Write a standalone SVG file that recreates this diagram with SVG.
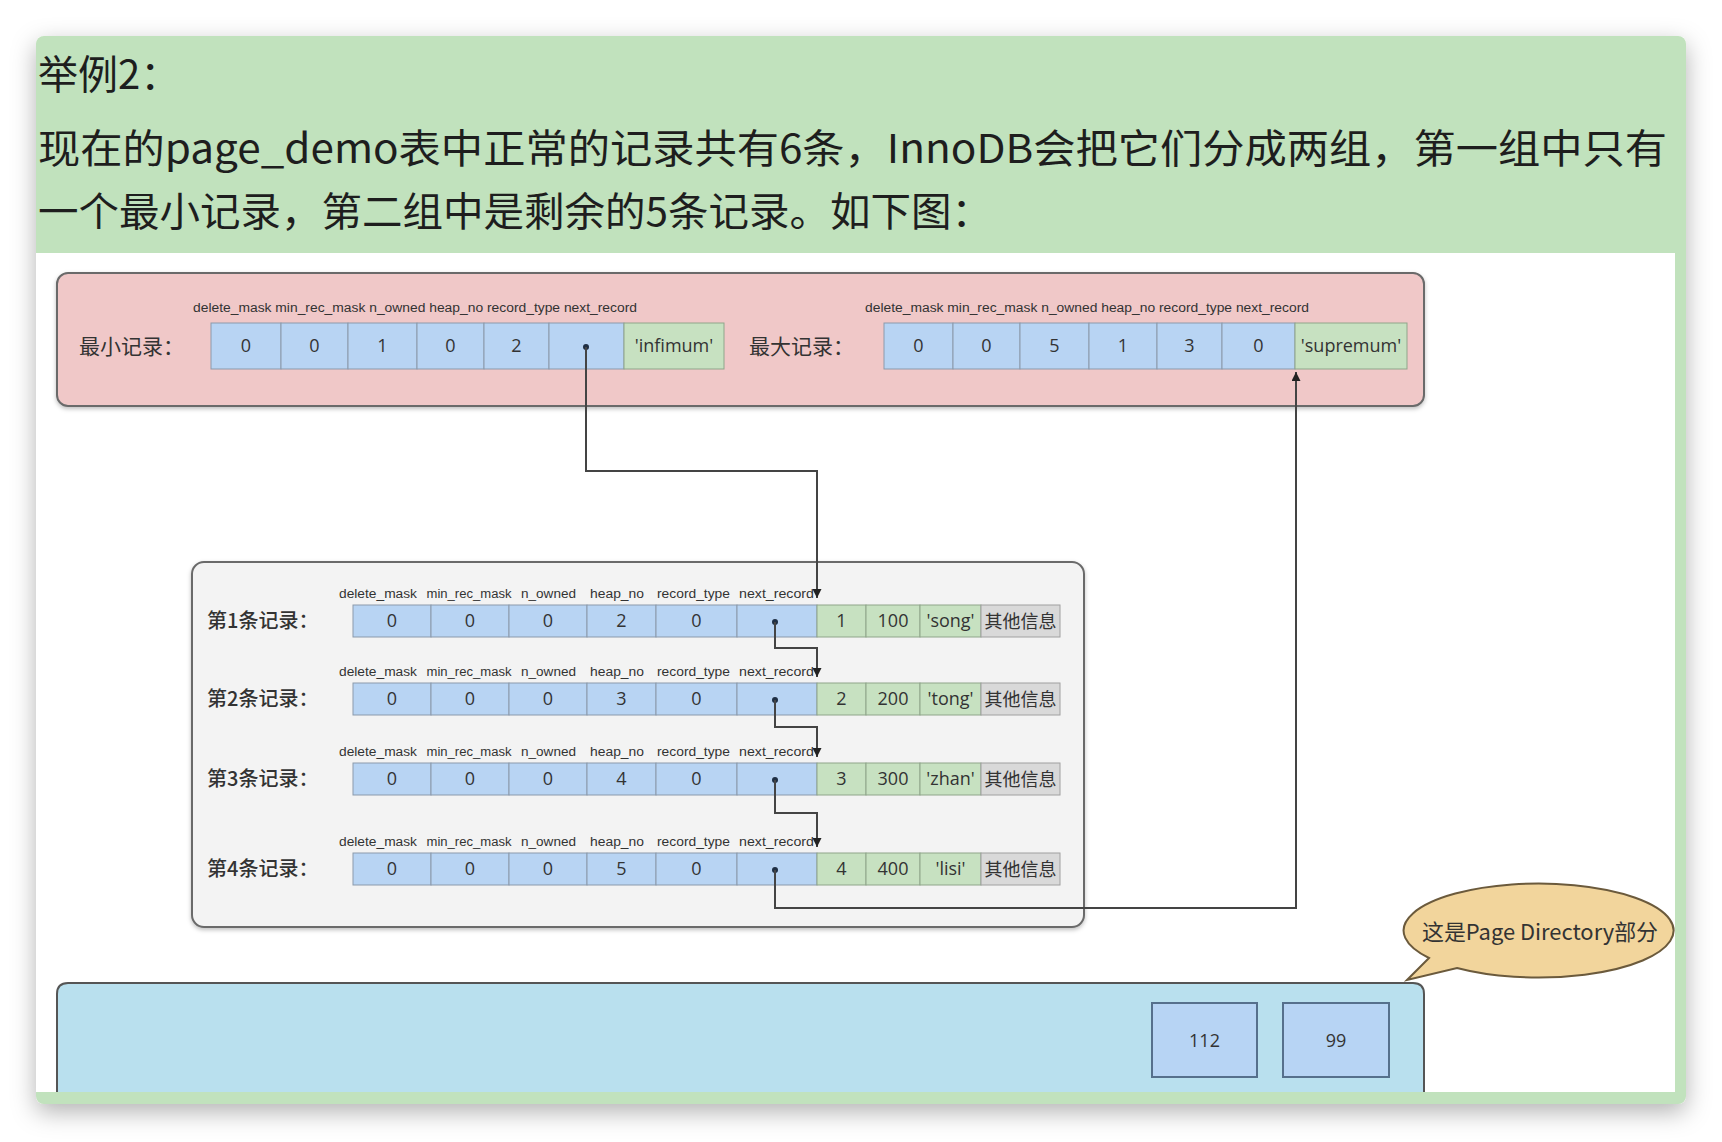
<svg xmlns="http://www.w3.org/2000/svg" xmlns:xlink="http://www.w3.org/1999/xlink" width="1722" height="1142" viewBox="0 0 1722 1142">
<defs>
<style>
.hdr{font-family:"Noto Sans CJK SC","Noto Sans",sans-serif;font-size:40px;fill:#1e1e1e}
.lbl{font-family:"Liberation Sans",Arial,sans-serif;font-size:12.5px;fill:#333}
.val{font-family:"Open Sans","Liberation Sans",sans-serif;font-size:18px;fill:#333;text-anchor:middle}
.cjk{font-family:"Noto Sans CJK SC",sans-serif;fill:#333}
.blue{fill:#b8d4f3;stroke:#8b9aab;stroke-width:1}
.green{fill:#c7e1c1;stroke:#8fa58a;stroke-width:1}
.gray{fill:#d9d9d9;stroke:#a0a0a0;stroke-width:1}
.conn{fill:none;stroke:#444;stroke-width:2}
.dot{fill:#1f2f44}
</style>
<filter id="cardShadow" x="-5%" y="-5%" width="110%" height="112%">
<feDropShadow dx="0" dy="8" stdDeviation="12" flood-color="#000" flood-opacity="0.3"/>
</filter>
<filter id="boxShadow" x="-2%" y="-5%" width="104%" height="115%">
<feDropShadow dx="0" dy="2" stdDeviation="2" flood-color="#000" flood-opacity="0.25"/>
</filter>
<marker id="arr" viewBox="0 0 10 10" refX="10" refY="5" markerWidth="9" markerHeight="9" markerUnits="userSpaceOnUse" orient="auto">
<path d="M0,0 L10,5 L0,10 z" fill="#222"/>
</marker>
<g id="rowgrid">
<rect class="blue" x="353" y="0" width="78" height="32"/>
<rect class="blue" x="431" y="0" width="78" height="32"/>
<rect class="blue" x="509" y="0" width="78" height="32"/>
<rect class="blue" x="587" y="0" width="69" height="32"/>
<rect class="blue" x="656" y="0" width="81" height="32"/>
<rect class="blue" x="737" y="0" width="80" height="32"/>
<rect class="green" x="817" y="0" width="49" height="32"/>
<rect class="green" x="866" y="0" width="54" height="32"/>
<rect class="green" x="920" y="0" width="61" height="32"/>
<rect class="gray" x="981" y="0" width="79" height="32"/>
<text class="lbl" x="378" y="-7" text-anchor="middle" textLength="78" lengthAdjust="spacingAndGlyphs">delete_mask</text>
<text class="lbl" x="469" y="-7" text-anchor="middle" textLength="85" lengthAdjust="spacingAndGlyphs">min_rec_mask</text>
<text class="lbl" x="548.5" y="-7" text-anchor="middle" textLength="55" lengthAdjust="spacingAndGlyphs">n_owned</text>
<text class="lbl" x="617" y="-7" text-anchor="middle" textLength="54" lengthAdjust="spacingAndGlyphs">heap_no</text>
<text class="lbl" x="693.5" y="-7" text-anchor="middle" textLength="73" lengthAdjust="spacingAndGlyphs">record_type</text>
<text class="lbl" x="776.5" y="-7" text-anchor="middle" textLength="75" lengthAdjust="spacingAndGlyphs">next_record</text>
<circle class="dot" cx="775" cy="17" r="3"/>
</g>
</defs>

<rect x="0" y="0" width="1722" height="1142" fill="#ffffff"/>

<g id="card">
<rect x="36" y="36" width="1650" height="1068" rx="8" fill="#c1e2bd" filter="url(#cardShadow)"/>
<rect x="36" y="253" width="1639" height="839" fill="#ffffff"/>
</g>

<g id="header">
<text class="hdr" x="38" y="89">举例2：</text>
<text class="hdr" x="38" y="163" textLength="1629" lengthAdjust="spacingAndGlyphs">现在的page_demo表中正常的记录共有6条，InnoDB会把它们分成两组，第一组中只有</text>
<text class="hdr" x="38" y="226" textLength="954" lengthAdjust="spacingAndGlyphs">一个最小记录，第二组中是剩余的5条记录。如下图：</text>
</g>

<g id="group1-box">
<rect x="57" y="273" width="1367" height="133" rx="11" fill="#f0c8c8" stroke="#6a6a6a" stroke-width="2" filter="url(#boxShadow)"/>
</g>

<g id="infimum">
<text class="cjk" x="79" y="354" font-size="21">最小记录：</text>
<text class="lbl" x="193" y="312" textLength="444" lengthAdjust="spacingAndGlyphs">delete_mask min_rec_mask n_owned heap_no record_type  next_record</text>
<rect class="blue" x="211" y="323" width="70" height="46"/>
<rect class="blue" x="281" y="323" width="67" height="46"/>
<rect class="blue" x="348" y="323" width="69" height="46"/>
<rect class="blue" x="417" y="323" width="67" height="46"/>
<rect class="blue" x="484" y="323" width="65" height="46"/>
<rect class="blue" x="549" y="323" width="75" height="46"/>
<rect class="green" x="624" y="323" width="100" height="46"/>
<text class="val" x="246" y="352">0</text>
<text class="val" x="314.5" y="352">0</text>
<text class="val" x="382.5" y="352">1</text>
<text class="val" x="450.5" y="352">0</text>
<text class="val" x="516.5" y="352">2</text>
<circle class="dot" cx="586" cy="347" r="3"/>
<text class="val" x="674" y="352">'infimum'</text>
</g>

<g id="supremum">
<text class="cjk" x="749" y="354" font-size="21">最大记录：</text>
<text class="lbl" x="865" y="312" textLength="444" lengthAdjust="spacingAndGlyphs">delete_mask min_rec_mask n_owned heap_no record_type  next_record</text>
<rect class="blue" x="884" y="323" width="69" height="46"/>
<rect class="blue" x="953" y="323" width="67" height="46"/>
<rect class="blue" x="1020" y="323" width="69" height="46"/>
<rect class="blue" x="1089" y="323" width="68" height="46"/>
<rect class="blue" x="1157" y="323" width="65" height="46"/>
<rect class="blue" x="1222" y="323" width="73" height="46"/>
<rect class="green" x="1295" y="323" width="112" height="46"/>
<text class="val" x="918.5" y="352">0</text>
<text class="val" x="986.5" y="352">0</text>
<text class="val" x="1054.5" y="352">5</text>
<text class="val" x="1123" y="352">1</text>
<text class="val" x="1189.5" y="352">3</text>
<text class="val" x="1258.5" y="352">0</text>
<text class="val" x="1351" y="352">'supremum'</text>
</g>

<g id="group2-box">
<rect x="192" y="562" width="892" height="365" rx="12" fill="#f3f3f3" stroke="#6a6a6a" stroke-width="2" filter="url(#boxShadow)"/>
</g>

<g id="record1" transform="translate(0,605)">
<use xlink:href="#rowgrid"/>
<text class="cjk" x="207" y="23" font-size="20" font-weight="500">第1条记录：</text>
<text class="val" x="392" y="22">0</text><text class="val" x="470" y="22">0</text><text class="val" x="548" y="22">0</text>
<text class="val" x="621.5" y="22">2</text><text class="val" x="696.5" y="22">0</text>
<text class="val" x="841.5" y="22">1</text><text class="val" x="893" y="22">100</text><text class="val" x="950.5" y="22">'song'</text>
<text class="cjk" x="1020.5" y="23" font-size="18" text-anchor="middle">其他信息</text>
</g>
<g id="record2" transform="translate(0,683)">
<use xlink:href="#rowgrid"/>
<text class="cjk" x="207" y="23" font-size="20" font-weight="500">第2条记录：</text>
<text class="val" x="392" y="22">0</text><text class="val" x="470" y="22">0</text><text class="val" x="548" y="22">0</text>
<text class="val" x="621.5" y="22">3</text><text class="val" x="696.5" y="22">0</text>
<text class="val" x="841.5" y="22">2</text><text class="val" x="893" y="22">200</text><text class="val" x="950.5" y="22">'tong'</text>
<text class="cjk" x="1020.5" y="23" font-size="18" text-anchor="middle">其他信息</text>
</g>
<g id="record3" transform="translate(0,763)">
<use xlink:href="#rowgrid"/>
<text class="cjk" x="207" y="23" font-size="20" font-weight="500">第3条记录：</text>
<text class="val" x="392" y="22">0</text><text class="val" x="470" y="22">0</text><text class="val" x="548" y="22">0</text>
<text class="val" x="621.5" y="22">4</text><text class="val" x="696.5" y="22">0</text>
<text class="val" x="841.5" y="22">3</text><text class="val" x="893" y="22">300</text><text class="val" x="950.5" y="22">'zhan'</text>
<text class="cjk" x="1020.5" y="23" font-size="18" text-anchor="middle">其他信息</text>
</g>
<g id="record4" transform="translate(0,853)">
<use xlink:href="#rowgrid"/>
<text class="cjk" x="207" y="23" font-size="20" font-weight="500">第4条记录：</text>
<text class="val" x="392" y="22">0</text><text class="val" x="470" y="22">0</text><text class="val" x="548" y="22">0</text>
<text class="val" x="621.5" y="22">5</text><text class="val" x="696.5" y="22">0</text>
<text class="val" x="841.5" y="22">4</text><text class="val" x="893" y="22">400</text><text class="val" x="950.5" y="22">'lisi'</text>
<text class="cjk" x="1020.5" y="23" font-size="18" text-anchor="middle">其他信息</text>
</g>

<g id="page-directory">
<path d="M57,1092 V994 Q57,983 68,983 H1413 Q1424,983 1424,994 V1092" fill="#b9e0ee" stroke="#555" stroke-width="2"/>
<rect x="1152" y="1003" width="105" height="74" fill="#b7d4f4" stroke="#56708c" stroke-width="2"/>
<rect x="1283" y="1003" width="106" height="74" fill="#b7d4f4" stroke="#56708c" stroke-width="2"/>
<text class="val" x="1204.5" y="1047" font-size="20">112</text>
<text class="val" x="1336" y="1047" font-size="20">99</text>
</g>

<g id="callout">
<path d="M1429,958 L1407,980 L1457,968 A135,47 0 1 0 1429,958 Z" fill="#f2d59c" stroke="#6b5a3c" stroke-width="2"/>
<text class="cjk" x="1540" y="940" font-size="22" text-anchor="middle" fill="#3d3320" textLength="236" lengthAdjust="spacingAndGlyphs">这是Page Directory部分</text>
</g>

<g id="connectors">
<path class="conn" d="M586,347 V471 H817 V598" marker-end="url(#arr)"/>
<path class="conn" d="M775,622 V648 H817 V677" marker-end="url(#arr)"/>
<path class="conn" d="M775,700 V727 H817 V757" marker-end="url(#arr)"/>
<path class="conn" d="M775,780 V813 H817 V847" marker-end="url(#arr)"/>
<path class="conn" d="M775,870 V908 H1296 V372" marker-end="url(#arr)"/>
</g>
</svg>
